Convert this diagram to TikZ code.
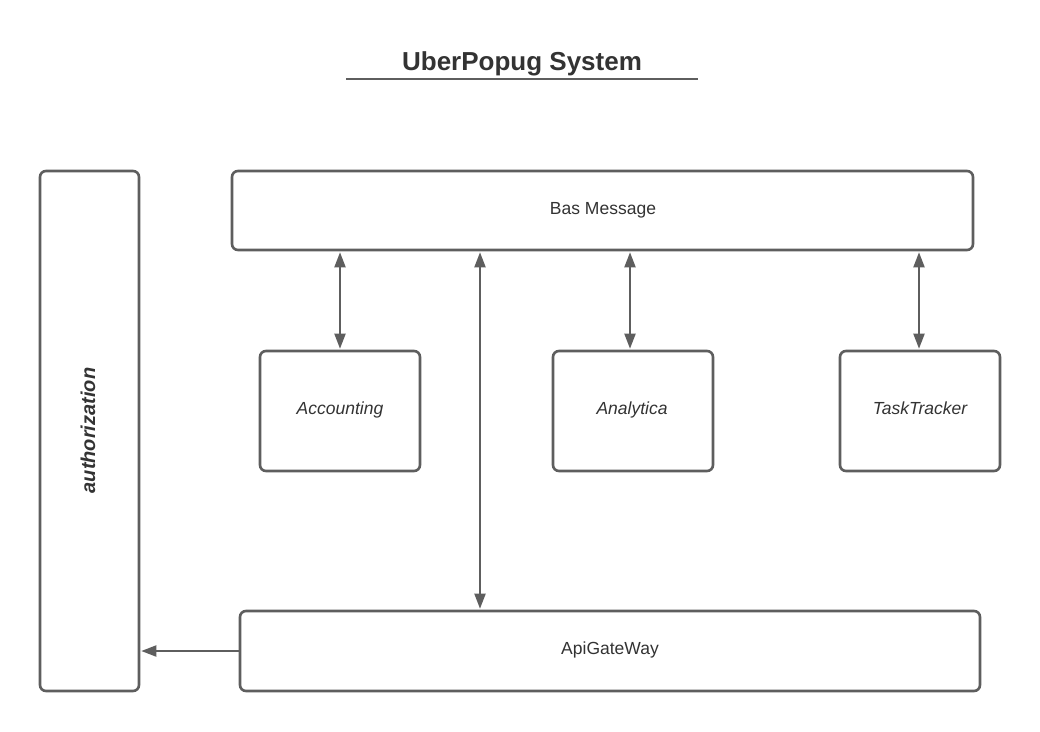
\documentclass[tikz,border=0pt]{standalone}
\usepackage{fontspec}
\setmainfont{Liberation Sans}
\usetikzlibrary{arrows.meta}
\definecolor{ln}{HTML}{5E5E5E}
\definecolor{tx}{HTML}{333333}
\begin{document}
\begin{tikzpicture}[x=1pt,y=-1pt,
  box/.style={draw=ln,line width=2.6pt,rounded corners=6pt,inner sep=0pt,fill=white},
  lbl/.style={text=tx,font=\fontsize{17.5}{20}\selectfont,inner sep=0pt,anchor=base},
  ilbl/.style={lbl,font=\fontsize{17.5}{20}\selectfont\itshape},
  arr/.style={draw=ln,line width=2pt,{Triangle[length=15pt,width=11pt]}-{Triangle[length=15pt,width=11pt]},shorten <=1pt,shorten >=1pt},
  arrone/.style={draw=ln,line width=2pt,-{Triangle[length=15pt,width=11pt]},shorten >=1pt}]
\useasboundingbox (0,0) rectangle (1040,731);
\fill[white] (0,0) rectangle (1040,731);
% title
\node[text=tx,font=\fontsize{26}{30}\selectfont\bfseries,inner sep=0pt,anchor=base] (title) at (522,70) {UberPopug System};
\coordinate (ul1) at (346,79);
\coordinate (ul2) at (698,79);
\draw[ln,line width=2pt] (ul1) -- (ul2);
% boxes
\node[box,minimum width=99pt,minimum height=520pt] (auth) at (89.5,431) {};
\node[text=tx,font=\fontsize{20}{24}\selectfont\bfseries\itshape,rotate=90,inner sep=0pt,anchor=base] (authl) at (95,430.5) {authorization};
\node[box,minimum width=741pt,minimum height=79pt] (bus) at (602.5,210.5) {};
\node[lbl] (busl) at (603,214) {Bas Message};
\node[box,minimum width=160pt,minimum height=120pt] (acc) at (340,411) {};
\node[ilbl] (accl) at (340,414) {Accounting};
\node[box,minimum width=160pt,minimum height=120pt] (ana) at (633,411) {};
\node[ilbl] (anal) at (632,414) {Analytica};
\node[box,minimum width=160pt,minimum height=120pt] (tt) at (920,411) {};
\node[ilbl] (ttl) at (920,414) {TaskTracker};
\node[box,minimum width=740pt,minimum height=80pt] (api) at (610,651) {};
\node[lbl] (apil) at (610,654) {ApiGateWay};
% connectors
\coordinate (m) at (480,0);
\coordinate (ca) at (630,0);
\coordinate (ct) at (919,0);
\draw[arr] (bus.south -| acc.north) -- (acc.north);
\draw[arr] (bus.south -| ca) -- (ana.north -| ca);
\draw[arr] (bus.south -| ct) -- (tt.north -| ct);
\draw[arr] (bus.south -| m) -- (api.north -| m);
\draw[arrone] (api.west) -- (auth.east |- api.west);
\end{tikzpicture}
\end{document}
